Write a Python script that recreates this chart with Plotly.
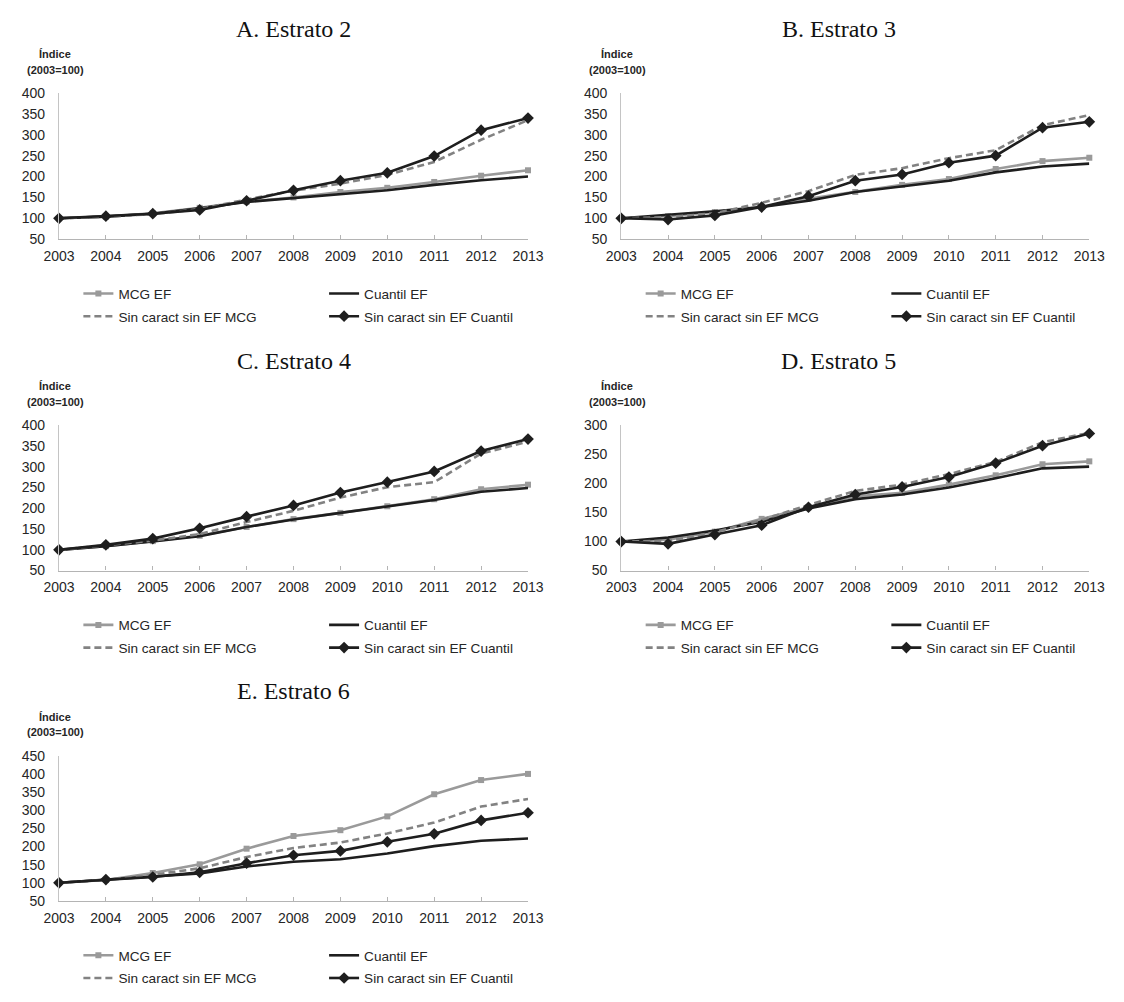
import plotly.graph_objects as go

years = [2003, 2004, 2005, 2006, 2007, 2008, 2009, 2010, 2011, 2012, 2013]

series_names = ["MCG EF", "Cuantil EF", "Sin caract sin EF MCG", "Sin caract sin EF Cuantil"]

panel_titles = ["A. Estrato 2", "B. Estrato 3", "C. Estrato 4", "D. Estrato 5", "E. Estrato 6"]

# Panel A - Estrato 2
a_mcg_ef = [100, 104, 112, 125, 140, 150, 163, 173, 187, 202, 215]
a_cuantil_ef = [100, 104, 111, 124, 139, 148, 158, 167, 180, 191, 200]
a_sin_mcg = [100, 104, 110, 122, 145, 166, 183, 204, 235, 288, 335]
a_sin_cuantil = [100, 105, 111, 120, 142, 167, 190, 209, 249, 311, 340]

# Panel B - Estrato 3
b_mcg_ef = [100, 105, 115, 127, 147, 163, 180, 194, 218, 237, 245]
b_cuantil_ef = [100, 108, 117, 127, 142, 163, 177, 190, 210, 224, 231]
b_sin_mcg = [100, 103, 112, 137, 165, 204, 220, 244, 263, 323, 347]
b_sin_cuantil = [100, 97, 107, 127, 153, 190, 205, 233, 250, 317, 331]

# Panel C - Estrato 4
c_mcg_ef = [100, 109, 121, 134, 155, 174, 189, 205, 222, 246, 257]
c_cuantil_ef = [100, 109, 120, 133, 155, 173, 189, 204, 220, 240, 249]
c_sin_mcg = [100, 111, 122, 138, 167, 194, 226, 251, 263, 332, 361]
c_sin_cuantil = [100, 112, 127, 152, 180, 207, 238, 263, 289, 338, 367]

# Panel D - Estrato 5
d_mcg_ef = [100, 103, 117, 139, 159, 178, 184, 198, 214, 233, 238]
d_cuantil_ef = [100, 107, 119, 134, 157, 173, 181, 193, 209, 226, 229]
d_sin_mcg = [100, 101, 116, 137, 163, 187, 198, 216, 237, 271, 287]
d_sin_cuantil = [100, 96, 112, 128, 159, 181, 194, 211, 235, 265, 286]

# Panel E - Estrato 6
e_mcg_ef = [100, 108, 127, 151, 194, 229, 245, 283, 344, 383, 400]
e_cuantil_ef = [100, 108, 117, 126, 145, 158, 165, 181, 201, 216, 222]
e_sin_mcg = [100, 108, 122, 140, 171, 196, 211, 236, 266, 310, 331]
e_sin_cuantil = [100, 109, 116, 129, 154, 176, 188, 213, 235, 272, 293]

panels_data = [
    [a_mcg_ef, a_cuantil_ef, a_sin_mcg, a_sin_cuantil],
    [b_mcg_ef, b_cuantil_ef, b_sin_mcg, b_sin_cuantil],
    [c_mcg_ef, c_cuantil_ef, c_sin_mcg, c_sin_cuantil],
    [d_mcg_ef, d_cuantil_ef, d_sin_mcg, d_sin_cuantil],
    [e_mcg_ef, e_cuantil_ef, e_sin_mcg, e_sin_cuantil],
]
y_ranges = [[50, 400], [50, 400], [50, 400], [50, 300], [50, 450]]

# page has an 8px body margin; the figure is shrunk so the page fits the window
OFF = 8
W, H = 1124 - 2 * OFF, 1002 - 2 * OFF
# pixel layout (window coordinates) of each panel: (x_left, x_right, y_top, y_bottom)
boxes = [
    (44, 527, 87, 237),
    (623, 1105, 87, 237),
    (44, 527, 428, 577),
    (623, 1105, 428, 577),
    (44, 527, 767, 916),
]
title_cx = [285, 847, 286, 847, 285]

styles = [
    dict(line=dict(color="#9a9a9a", width=2.6), mode="lines+markers",
         marker=dict(symbol="square", size=6, color="#9a9a9a")),
    dict(line=dict(color="#1e1e1e", width=2.6), mode="lines"),
    dict(line=dict(color="#828282", width=2.6, dash="7px,4px"), mode="lines"),
    dict(line=dict(color="#1e1e1e", width=2.6), mode="lines+markers",
         marker=dict(symbol="diamond", size=9, color="#1e1e1e")),
]

FONT = "Liberation Sans, Arial, sans-serif"
fig = go.Figure()
annotations = []
layout_extra = {}


def px_x(v):
    return (v - OFF) / W


def px_y(v):
    return 1 - (v - OFF) / H


for i, (data, box) in enumerate(zip(panels_data, boxes)):
    k = i + 1
    xa = "x" if k == 1 else f"x{k}"
    ya = "y" if k == 1 else f"y{k}"
    x0, x1, y0, y1 = box
    leg_a = f"legend{2*i+1}" if i > 0 else "legend"
    leg_b = f"legend{2*i+2}"
    for j, (name, vals) in enumerate(zip(series_names, data)):
        leg = leg_a if j in (0, 2) else leg_b
        fig.add_trace(go.Scatter(
            x=years, y=vals, name=name, xaxis=xa, yaxis=ya,
            legend=leg, legendgroup=f"p{i}s{j}", cliponaxis=False,
            hoverinfo="x+y+name", **styles[j]))
    xkey = "xaxis" if k == 1 else f"xaxis{k}"
    ykey = "yaxis" if k == 1 else f"yaxis{k}"
    layout_extra[xkey] = dict(
        domain=[px_x(x0), px_x(x1)], range=[2003, 2013], anchor=ya,
        tickmode="array", tickvals=years, ticktext=[str(y) for y in years],
        showline=True, linecolor="#b4b4b4", linewidth=1.2,
        ticks="inside", ticklen=4, tickcolor="#b4b4b4", tickwidth=1,
        showgrid=False, zeroline=False, ticklabelstandoff=4,
        tickfont=dict(family=FONT, size=14, color="#262626"))
    yr = y_ranges[i]
    layout_extra[ykey] = dict(
        domain=[px_y(y1), px_y(y0)], range=yr, anchor=xa,
        tickmode="linear", tick0=50, dtick=50,
        showline=True, linecolor="#c4c4c4", linewidth=1.2,
        ticks="", showgrid=False, zeroline=False, ticklabelstandoff=10,
        tickfont=dict(family=FONT, size=14, color="#262626"))
    # legends
    for col, leg in enumerate([leg_a, leg_b]):
        lx = (64 if col == 0 else 317) + (x0 - 44)
        layout_extra[leg] = dict(
            x=px_x(lx), xanchor="left", y=px_y(y1 + 40), yanchor="top",
            orientation="v", bgcolor="rgba(0,0,0,0)", borderwidth=0,
            tracegroupgap=2, font=dict(family=FONT, size=13.6, color="#262626"))
    # title
    annotations.append(dict(
        text=panel_titles[i], x=px_x(title_cx[i]), y=px_y(y0 - 66),
        xref="paper", yref="paper", xanchor="center", yanchor="middle",
        showarrow=False, font=dict(family="Liberation Serif, serif", size=24, color="#111")))
    annotations.append(dict(
        text="<b>Índice</b>", x=px_x(x0 - 4), y=px_y(y0 - 40),
        xref="paper", yref="paper", xanchor="center", yanchor="middle",
        showarrow=False, font=dict(family=FONT, size=11, color="#262626")))
    annotations.append(dict(
        text="<b>(2003=100)</b>", x=px_x(x0 - 4), y=px_y(y0 - 24),
        xref="paper", yref="paper", xanchor="center", yanchor="middle",
        showarrow=False, font=dict(family=FONT, size=11, color="#262626")))

fig.update_layout(
    width=W, height=H, margin=dict(l=0, r=0, t=0, b=0),
    paper_bgcolor="white", plot_bgcolor="white",
    annotations=annotations, showlegend=True, **layout_extra)

fig.write_html("out.html")
